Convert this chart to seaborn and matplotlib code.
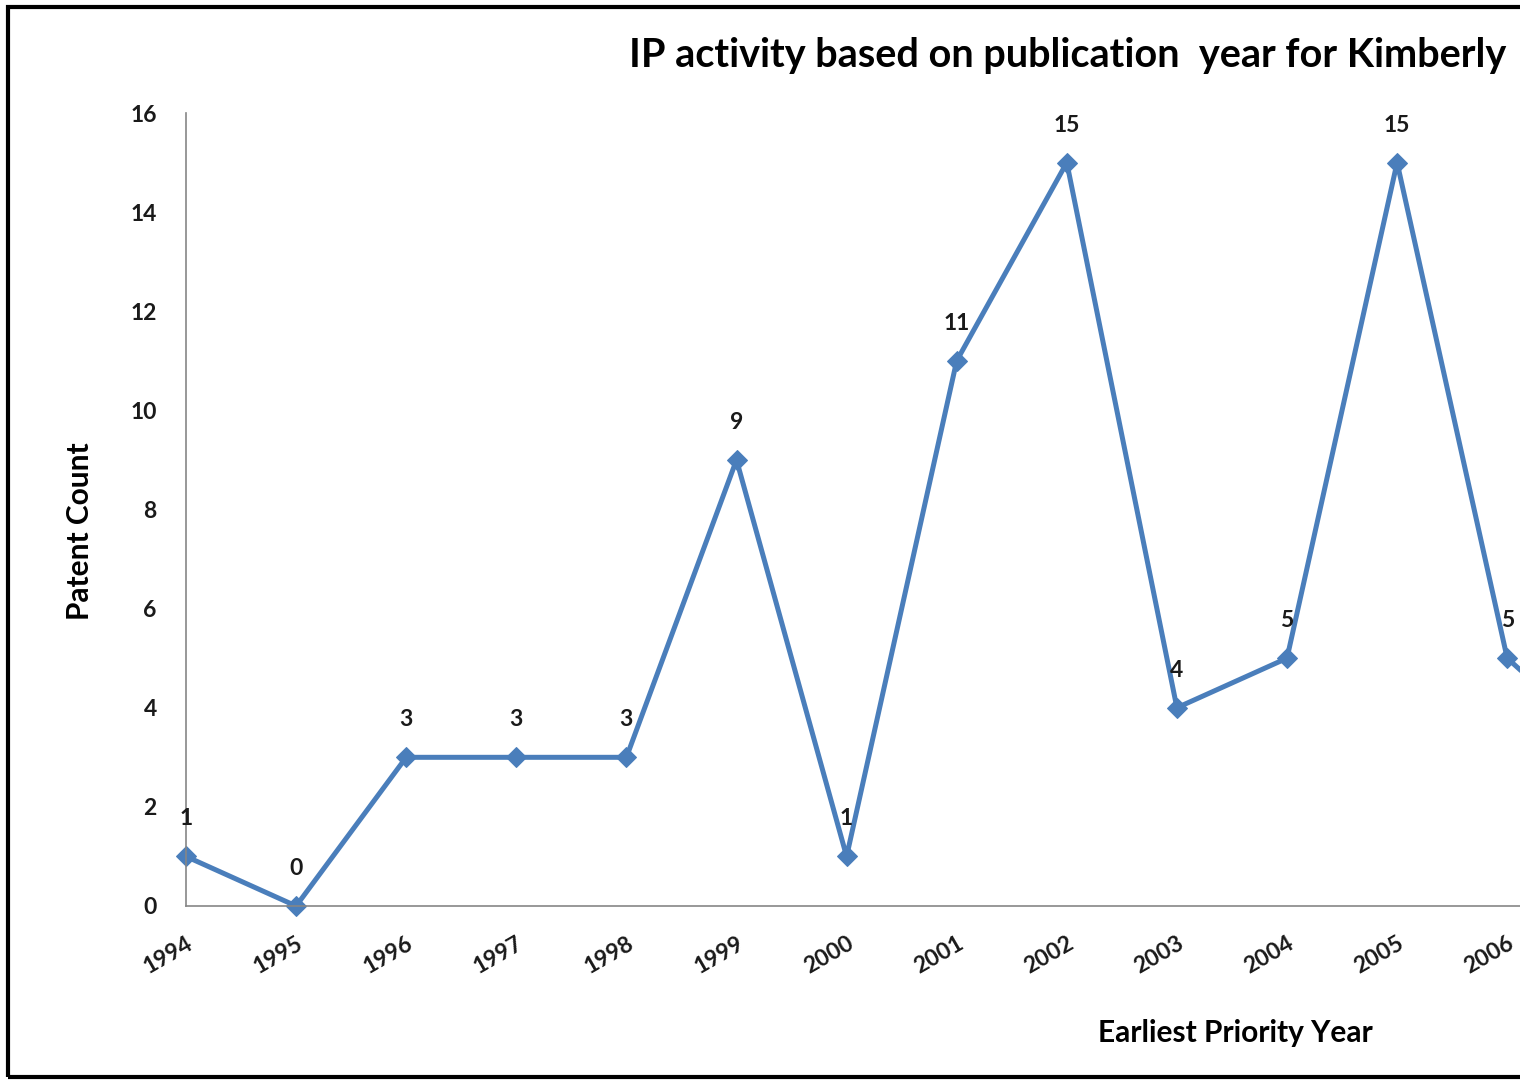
import matplotlib
matplotlib.use("Agg")
import matplotlib.pyplot as plt
import seaborn as sns

# data (last point only partly visible at the right edge)
years = [1994, 1995, 1996, 1997, 1998, 1999, 2000, 2001, 2002, 2003, 2004, 2005, 2006, 2007]
patent_counts = [1, 0, 3, 3, 3, 9, 1, 11, 15, 4, 5, 15, 5, 3]
year_ticks = list(range(1994, 2007))
y_ticks = [0, 2, 4, 6, 8, 10, 12, 14, 16]

title = "IP activity based on publication  year for Kimberly"
x_title = "Earliest Priority Year"
y_title = "Patent Count"

sns.set_theme(style="white")
plt.rcParams["font.family"] = ["Lato", "DejaVu Sans"]
plt.rcParams["font.weight"] = "bold"

line_color = "#4A7EBB"
axis_color = "#868686"

fig = plt.figure(figsize=(15.2, 10.8), dpi=100)
# plot area: left at 1994 (x=186px), runs off the right edge like the cropped original
left = 186 / 1520
bottom = (1080 - 906) / 1080
height = (906 - 113) / 1080
ax = fig.add_axes([left, bottom, 1 - left, height])

sns.lineplot(x=years, y=patent_counts, ax=ax, color=line_color, linewidth=3.6,
             marker="D", markersize=10, markeredgecolor=line_color, clip_on=False)

ax.set_xlim(1994, 1994 + (1520 - 186) / 110.1)
ax.set_ylim(0, 16)
ax.set_xticks(year_ticks)
ax.set_xticklabels([str(y) for y in year_ticks], rotation=30, ha="right",
                   rotation_mode="anchor", fontsize=16.5, fontweight="bold", color="#1a1a1a")
ax.set_yticks(y_ticks)
ax.set_yticklabels([str(v) for v in y_ticks], fontsize=16.5, fontweight="bold", color="#1a1a1a")

for s in ["top", "right"]:
    ax.spines[s].set_visible(False)
for s in ["left", "bottom"]:
    ax.spines[s].set_color(axis_color)
    ax.spines[s].set_linewidth(1.2)
ax.tick_params(axis="both", direction="out", length=5, width=1.2, color=axis_color)
ax.tick_params(axis="y", pad=16)
ax.tick_params(axis="x", pad=14)
ax.grid(False)

# data labels above each visible point
for yr, cnt in zip(years, patent_counts):
    if yr > 2006:
        continue
    ax.annotate(str(cnt), (yr, cnt), xytext=(0, 27), textcoords="offset points",
                ha="center", va="center", fontsize=16.5, fontweight="bold", color="#1a1a1a")

fig.text(1068 / 1520, 1 - 55 / 1080, title, ha="center", va="center",
         fontsize=28.5, fontweight="bold", color="black")
fig.text(1235 / 1520, 1 - 1033 / 1080, x_title, ha="center", va="center",
         fontsize=21.5, fontweight="bold", color="black")
fig.text(80 / 1520, 1 - 531 / 1080, y_title, ha="center", va="center", rotation=90,
         fontsize=21.5, fontweight="bold", color="black")

# black frame around the chart, open on the cropped right side
frame = plt.Rectangle((8 / 1520, 3 / 1080), 1.2, 1 - 10 / 1080, transform=fig.transFigure,
                      fill=False, edgecolor="black", linewidth=3, clip_on=False)
fig.add_artist(frame)

fig.savefig("out.png", dpi=100)
